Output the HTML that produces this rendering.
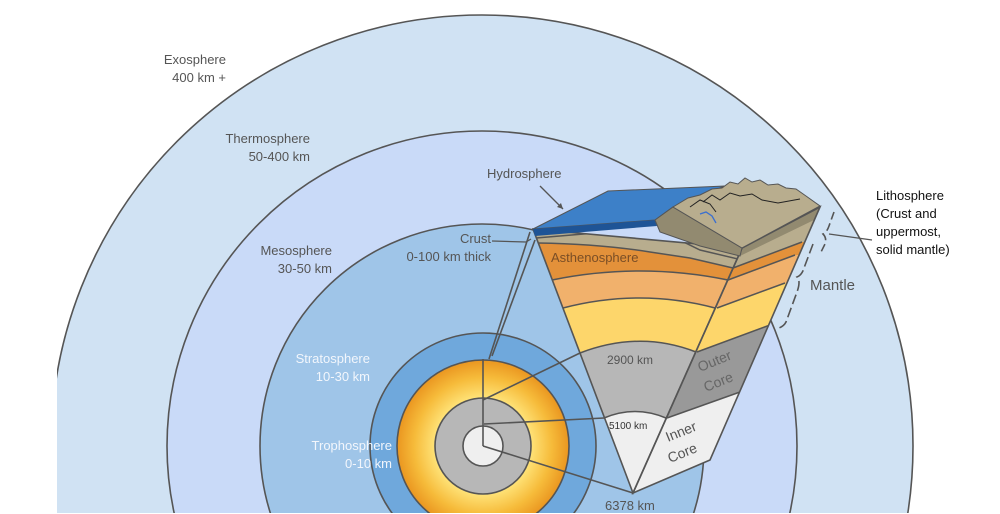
<!DOCTYPE html>
<html><head><meta charset="utf-8"><style>
html,body{margin:0;padding:0;background:#fff;width:1000px;height:514px;overflow:hidden}
svg{display:block}
text{font-family:"Liberation Sans",sans-serif}
</style></head><body>
<svg width="1000" height="514" viewBox="0 0 1000 514" xmlns="http://www.w3.org/2000/svg">
<defs>
<radialGradient id="og" cx="483" cy="446" r="86" gradientUnits="userSpaceOnUse">
<stop offset="0.55" stop-color="#ffe47a"/><stop offset="0.8" stop-color="#f6bb3a"/><stop offset="1" stop-color="#ea9620"/>
</radialGradient>
<clipPath id="front"><polygon points="533,229 742,248 633,493"/></clipPath>
<clipPath id="right"><polygon points="742,248 820,207 710,460 633,493"/></clipPath>
<clipPath id="pg"><rect x="57" y="0" width="943" height="513"/></clipPath>
</defs>
<g clip-path="url(#pg)" stroke="#555" stroke-width="1.6">
<circle cx="482" cy="446" r="431" fill="#d0e2f3"/>
<circle cx="482" cy="446" r="315" fill="#c9daf8"/>
<circle cx="482" cy="446" r="222" fill="#9fc5e8"/>
<circle cx="483" cy="446" r="113" fill="#6fa8dc"/>
<circle cx="483" cy="446" r="86" fill="url(#og)"/>
<circle cx="483" cy="446" r="48" fill="#b7b7b7"/>
<circle cx="483" cy="446" r="20" fill="#efefef"/>
</g>
<g stroke="#555" stroke-width="1.6" fill="none">
<line x1="530" y1="232" x2="489" y2="359"/>
<line x1="535" y1="240" x2="492" y2="356"/>
<line x1="483" y1="359" x2="483" y2="446"/>
<line x1="483" y1="400" x2="580" y2="353"/>
<line x1="484" y1="424" x2="604" y2="418"/>
<line x1="483" y1="446" x2="633" y2="493"/>
</g>
<g clip-path="url(#front)">
<rect x="500" y="150" width="300" height="360" fill="#efefef"/>
<path d="M604,418 Q635,405 666,418 L800,418 L800,150 L500,150 L500,418Z" fill="#b7b7b7"/>
<path d="M580,353 Q640,330 696,352 L800,352 L800,150 L500,150 L500,353Z" fill="#fdd66b"/>
<path d="M563,308 Q640,288 715,308 L800,308 L800,150 L500,150 L500,308Z" fill="#f1b16c"/>
<path d="M552,280 Q640,262 728,280 L800,280 L800,150 L500,150 L500,280Z" fill="#e3913a"/>
<path d="M538,243 Q600,244 650,252 L690,258 L733,268 L800,268 L800,150 L500,150 L500,243Z" fill="#b8ad8e"/>
<path d="M533,232 L655,222 L700,246 L742,256 L800,256 L800,150 L500,150Z" fill="#928a70"/>
<g stroke="#555" stroke-width="1.5" fill="none">
<path d="M604,418 Q635,405 666,418"/>
<path d="M580,353 Q640,330 696,352"/>
<path d="M563,308 Q640,288 715,308"/>
<path d="M552,280 Q640,262 728,280"/>
<path d="M538,243 Q600,244 650,252 L690,258 L733,268"/>
<path d="M536,238 L655,228 L700,250 L742,260"/>
</g>
</g>
<g clip-path="url(#right)">
<rect x="620" y="190" width="220" height="310" fill="#efefef"/>
<polygon points="640,440 667,418 740,392 840,392 840,190 620,190" fill="#999"/>
<polygon points="620,370 697,352 770,325 840,325 840,190 620,190" fill="#fdd66b"/>
<polygon points="620,310 717,308 785,283 840,283 840,190 620,190" fill="#f1b16c"/>
<polygon points="620,282 728,280 795,255 840,255 840,190 620,190" fill="#e3913a"/>
<polygon points="620,270 733,268 802,242 840,242 840,190 620,190" fill="#b8ad8e"/>
<polygon points="620,255 740,256 814,220 840,220 840,190 620,190" fill="#928a70"/>
<g stroke="#555" stroke-width="1.5">
<line x1="667" y1="418" x2="740" y2="392"/>
<line x1="697" y1="352" x2="770" y2="325"/>
<line x1="717" y1="308" x2="785" y2="283"/>
<line x1="728" y1="280" x2="795" y2="255"/>
<line x1="733" y1="268" x2="802" y2="242"/>
</g>
</g>
<g stroke="#555" stroke-width="1.6" fill="none">
<polygon points="533,229 742,248 633,493"/>
<polygon points="742,248 820,207 710,460 633,493"/>
</g>
<polygon points="533,229 608,191 725,186 673,207 655,220" fill="#3d80c8" stroke="#555" stroke-width="1"/>
<polygon points="533,229 655,220 657,226 535,236" fill="#1e5496"/>
<polygon points="655,220 673,207 742,248 740,256 700,246 660,232" fill="#928a70" stroke="#555" stroke-width="1"/>
<polygon points="673,207 688,198 700,195 712,189 722,188 730,182 738,184 745,178 752,182 760,180 768,185 778,184 786,188 796,189 806,196 820,206 742,248" fill="#b8ad8e" stroke="#555" stroke-width="1"/>
<polyline points="690,207 700,200 710,204 716,212" fill="none" stroke="#222" stroke-width="1"/>
<polyline points="703,202 712,195 720,200 730,193 740,196 752,194 762,200 778,203 800,199" fill="none" stroke="#222" stroke-width="1"/>
<polyline points="700,214 706,212 712,216 716,223" fill="none" stroke="#3a6fd0" stroke-width="1.3"/>
<g stroke="#555" stroke-width="1.3" fill="none">
<line x1="540" y1="186" x2="563" y2="209"/>
<polyline points="492,241 526,242 531,239"/>
<line x1="829" y1="234" x2="872" y2="240"/>
<path d="M834,212 L829,226 Q827,232 823,234 Q827,238 825,244 L820,254" stroke-dasharray="8,4" stroke-width="1.6"/>
<path d="M813,244 L804,268 Q802,275 797,277 Q801,281 797,292 L786,322 Q784,326 779,328" stroke-dasharray="10,4" stroke-width="1.6"/>
</g>
<polygon points="563,209 557,207 561,203" fill="#555"/>
<g font-size="13" fill="#555" text-anchor="end">
<text x="226" y="64">Exosphere</text><text x="226" y="82">400 km +</text>
<text x="310" y="143">Thermosphere</text><text x="310" y="161">50-400 km</text>
<text x="332" y="255">Mesosphere</text><text x="332" y="273">30-50 km</text>
<text x="491" y="243">Crust</text><text x="491" y="261">0-100 km thick</text>
<g fill="#f2f6fc"><text x="370" y="363">Stratosphere</text><text x="370" y="381">10-30 km</text>
<text x="392" y="450">Trophosphere</text><text x="392" y="468">0-10 km</text></g>
</g>
<g font-size="13" fill="#555">
<text x="487" y="178">Hydrosphere</text>
<text x="551" y="262" fill="#7a4e26">Asthenosphere</text>
<text x="607" y="364" font-size="12">2900 km</text>
<text x="609" y="429" font-size="10" fill="#333">5100 km</text>
<text x="605" y="510">6378 km</text>
<text x="810" y="290" font-size="15">Mantle</text>
<text transform="translate(700,372) rotate(-22)" font-size="14" fill="#666">Outer</text>
<text transform="translate(706,392) rotate(-22)" font-size="14" fill="#666">Core</text>
<text transform="translate(668,442) rotate(-22)" font-size="14" fill="#555">Inner</text>
<text transform="translate(670,463) rotate(-22)" font-size="14" fill="#555">Core</text>
</g>
<g font-size="13" fill="#111">
<text x="876" y="200">Lithosphere</text><text x="876" y="218">(Crust and</text>
<text x="876" y="236">uppermost,</text><text x="876" y="254">solid mantle)</text>
</g>
</svg>
</body></html>
